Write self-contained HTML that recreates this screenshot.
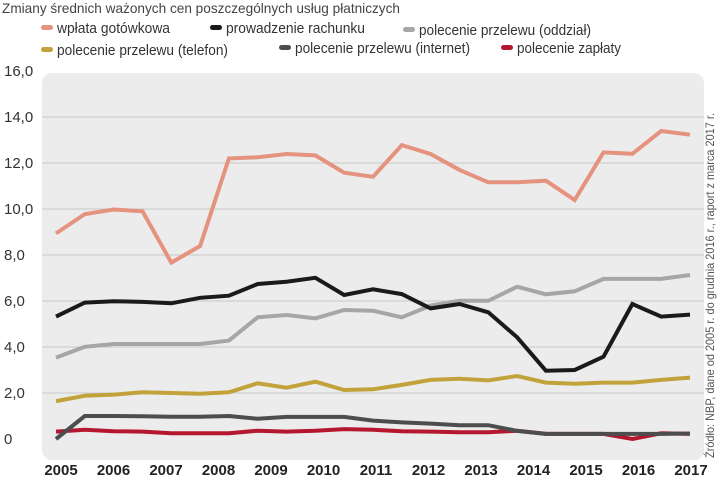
<!DOCTYPE html>
<html><head><meta charset="utf-8"><style>
body{margin:0;background:#fff;width:720px;height:478px;overflow:hidden;font-family:"Liberation Sans Narrow","Liberation Sans",sans-serif;}
svg text{font-family:"Liberation Sans Narrow","Liberation Sans",sans-serif;}
</style></head><body>
<svg id="c" width="720" height="478">
<text x="2" y="13" font-size="14" fill="#444" textLength="398" lengthAdjust="spacingAndGlyphs">Zmiany średnich ważonych cen poszczególnych usług płatniczych</text>
<rect x="42" y="73" width="662" height="387" rx="10" fill="#ececec"/>
<g id="grid"></g><g id="lines"></g><g id="axes"></g><g id="legend"></g>
<text transform="translate(714,458) rotate(-90)" font-size="12" fill="#555" textLength="345" lengthAdjust="spacingAndGlyphs">Źródło: NBP, dane od 2005 r. do grudnia 2016 r., raport z marca 2017 r.</text>
</svg>
<script>
const years=["2005","2006","2007","2008","2009","2010","2011","2012","2013","2014","2015","2016","2017"];
const yTicks=[0,2,4,6,8,10,12,14,16];
const seriesNames=["wpłata gotówkowa","prowadzenie rachunku","polecenie przelewu (oddział)","polecenie przelewu (telefon)","polecenie przelewu (internet)","polecenie zapłaty"];
const wplata=[8.94,9.78,9.98,9.9,7.67,8.39,12.2,12.25,12.39,12.33,11.58,11.4,12.78,12.39,11.7,11.16,11.16,11.23,10.39,12.46,12.4,13.39,13.23];
const rachunek=[5.32,5.93,5.99,5.96,5.9,6.14,6.23,6.74,6.84,7.01,6.26,6.51,6.3,5.68,5.87,5.51,4.42,2.97,3.0,3.58,5.87,5.32,5.41];
const oddzial=[3.54,4.01,4.13,4.13,4.13,4.13,4.28,5.29,5.39,5.25,5.61,5.58,5.29,5.8,6.01,6.01,6.62,6.29,6.42,6.96,6.96,6.96,7.13];
const telefon=[1.65,1.88,1.93,2.03,2.0,1.97,2.03,2.42,2.23,2.49,2.13,2.16,2.35,2.57,2.62,2.55,2.74,2.45,2.4,2.45,2.45,2.57,2.67];
const internet=[0.0,1.0,1.0,0.99,0.97,0.97,1.0,0.88,0.96,0.96,0.96,0.8,0.72,0.67,0.6,0.6,0.35,0.22,0.22,0.22,0.22,0.22,0.24];
const zaplata=[0.32,0.4,0.34,0.32,0.25,0.25,0.25,0.36,0.32,0.36,0.43,0.4,0.34,0.32,0.29,0.29,0.36,0.22,0.22,0.22,0.0,0.25,0.22];
const colors=["#e5937f","#1a1a1a","#a6a6a6","#c2a23a","#4d4d4d","#b5172e"];
const NS="http://www.w3.org/2000/svg";
const yS=v=>439-v*23;
const xS=i=>56+i*(634/(wplata.length-1));
function mk(t,a,p){const e=document.createElementNS(NS,t);for(const k in a)e.setAttribute(k,a[k]);p.appendChild(e);return e;}
const grid=document.getElementById('grid'),axes=document.getElementById('axes'),lines=document.getElementById('lines'),legend=document.getElementById('legend');
yTicks.forEach(v=>{
  if(v>0&&v<16){const l=mk('line',{x1:42,x2:704,y1:yS(v),y2:yS(v),stroke:'#c8c8c8','stroke-width':1},grid);
  
  }
  const t=mk('text',{x:4,y:yS(v)+5,'font-size':15,fill:'#333'},axes);
  t.textContent=v===0?'0':v.toFixed(1).replace('.',',');
  
  
});
years.forEach((y,i)=>{
  const t=mk('text',{x:61+i*52.5,y:475,'font-size':15,'font-weight':'bold',fill:'#222','text-anchor':'middle'},axes);
  t.textContent=y;
  
  
});
const all=[wplata,rachunek,oddzial,telefon,internet,zaplata];
const order=[5,4,3,2,1,0];
order.forEach(s=>{
  const d=all[s].map((v,i)=>(i?'L':'M')+xS(i).toFixed(1)+','+yS(v).toFixed(1)).join('');
  const p=mk('path',{d:d,fill:'none',stroke:colors[s],'stroke-width':4,'stroke-linejoin':'miter'},lines);
  
  
});
const lp=[[41,33,113],[210,33,139],[403,35,172],[41,55,171],[279,53,175],[501,53,104]];
seriesNames.forEach((n,i)=>{
  const g=mk('g',{},legend);
  
  
  mk('rect',{x:lp[i][0],y:lp[i][1]-8,width:12,height:5,rx:2.5,fill:colors[i]},g);
  const t=mk('text',{x:lp[i][0]+16,y:lp[i][1],'font-size':15,fill:'#333',textLength:lp[i][2],lengthAdjust:'spacingAndGlyphs'},g);
  t.textContent=n;
});
</script>
</body></html>
